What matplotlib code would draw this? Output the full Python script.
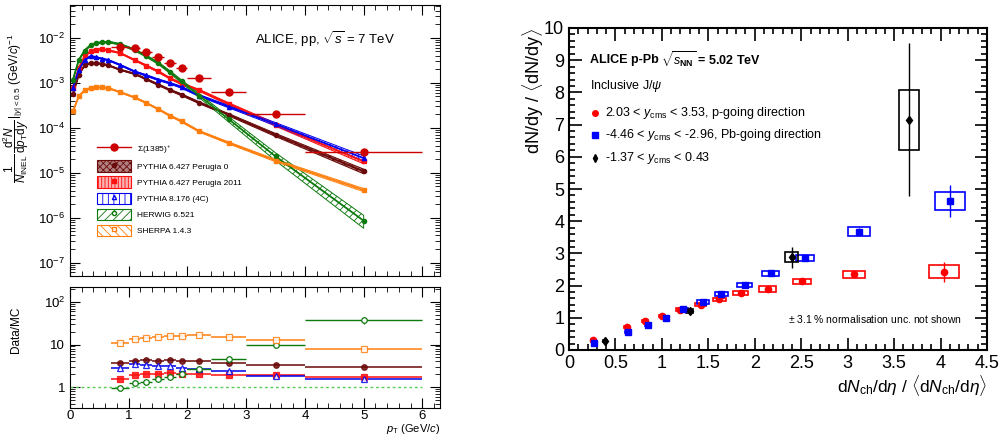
import numpy as np
import matplotlib.pyplot as plt
from matplotlib.patches import Patch, Rectangle
from matplotlib.lines import Line2D
from matplotlib.ticker import MultipleLocator, FixedLocator, FixedFormatter, NullFormatter, LogLocator

plt.rcParams['font.family'] = ['Liberation Sans', 'DejaVu Sans']
plt.rcParams['mathtext.fontset'] = 'custom'
plt.rcParams['mathtext.rm'] = 'Liberation Sans'
plt.rcParams['mathtext.it'] = 'Liberation Sans:italic'
plt.rcParams['mathtext.bf'] = 'Liberation Sans:bold'
plt.rcParams['hatch.linewidth'] = 0.6

# ---- left: Sigma(1385)+ spectrum vs MC
pt_data = [0.85, 1.1, 1.3, 1.5, 1.7, 1.9, 2.2, 2.7, 3.5, 5.0]
pt_hw = [0.15, 0.1, 0.1, 0.1, 0.1, 0.1, 0.2, 0.3, 0.5, 1.0]
sigma_data = [6.3e-3, 6.0e-3, 4.8e-3, 3.7e-3, 2.8e-3, 2.1e-3, 1.3e-3, 6.2e-4, 2.0e-4, 2.9e-5]

pt_mc = [0.05, 0.15, 0.25, 0.35, 0.45, 0.55, 0.65, 0.85, 1.1, 1.3, 1.5, 1.7, 1.9, 2.2, 2.7, 3.5, 5.0]
perugia0 = [5.6e-4, 1.5e-3, 2.45e-3, 2.75e-3, 2.75e-3, 2.6e-3, 2.45e-3, 1.95e-3, 1.58e-3, 1.2e-3,
            9.1e-4, 6.9e-4, 5.4e-4, 3.6e-4, 1.95e-4, 6.9e-5, 1.07e-5]
perugia2011 = [7.8e-4, 2.14e-3, 3.9e-3, 5.0e-3, 5.4e-3, 5.6e-3, 5.25e-3, 4.6e-3, 3.2e-3, 2.4e-3,
               1.78e-3, 1.26e-3, 9.5e-4, 6.8e-4, 3.4e-4, 1.17e-4, 1.78e-5]
pythia8 = [7.8e-4, 1.95e-3, 3.2e-3, 3.9e-3, 3.7e-3, 3.4e-3, 3.2e-3, 2.5e-3, 1.78e-3, 1.45e-3,
           1.17e-3, 9.8e-4, 7.9e-4, 5.2e-4, 2.95e-4, 1.2e-4, 2.1e-5]
herwig = [1.17e-3, 3.2e-3, 5.2e-3, 6.8e-3, 7.6e-3, 7.9e-3, 8.1e-3, 7.2e-3, 5.4e-3, 3.9e-3,
          2.75e-3, 1.74e-3, 1.07e-3, 5.2e-4, 1.55e-4, 2.3e-5, 8.5e-7]
sherpa = [2.3e-4, 5.0e-4, 6.8e-4, 7.6e-4, 7.9e-4, 7.9e-4, 7.6e-4, 6.2e-4, 4.7e-4, 3.55e-4,
          2.6e-4, 1.86e-4, 1.38e-4, 8.3e-5, 4.6e-5, 1.86e-5, 4.1e-6]
rel_err_pythia = [0.03, 0.03, 0.03, 0.03, 0.03, 0.03, 0.03, 0.03, 0.03, 0.04,
                  0.04, 0.04, 0.05, 0.05, 0.06, 0.08, 0.12]
rel_err_herwig = [0.04, 0.04, 0.04, 0.04, 0.04, 0.04, 0.04, 0.04, 0.05, 0.05,
                  0.06, 0.07, 0.08, 0.1, 0.13, 0.2, 0.32]
rel_err_sherpa = [0.03, 0.03, 0.03, 0.03, 0.03, 0.03, 0.03, 0.03, 0.03, 0.03,
                  0.03, 0.04, 0.04, 0.04, 0.05, 0.06, 0.08]

ratio_p0 = [3.6, 4.2, 4.4, 4.2, 4.4, 4.1, 4.0, 3.6, 3.3, 2.9]
ratio_p11 = [1.57, 1.9, 2.05, 2.05, 2.2, 2.0, 2.0, 1.95, 1.9, 1.7]
ratio_py8 = [2.75, 3.4, 3.3, 3.2, 3.05, 2.8, 2.6, 2.34, 1.8, 1.54]
ratio_hw = [0.96, 1.22, 1.33, 1.54, 1.75, 2.0, 2.6, 4.5, 9.7, 37.0]
ratio_hw_err = [0.03, 0.04, 0.05, 0.06, 0.07, 0.08, 0.1, 0.2, 0.6, 6.0]
ratio_sh = [10.9, 13.7, 14.4, 14.7, 15.8, 15.6, 16.7, 15.0, 12.6, 7.8]

c_brown = '#6b0a0a'
c_red = '#ff1010'
c_blue = '#0000ee'
c_green = '#0d7a0d'
c_orange = '#ff7f0e'
c_data = '#cc0000'

mc_list = [
    ('PYTHIA 6.427 Perugia 0', perugia0, rel_err_pythia, c_brown, '#b08080', 'xxxxx', 'o', ratio_p0, c_brown),
    ('PYTHIA 6.427 Perugia 2011', perugia2011, rel_err_pythia, c_red, '#ffb0b0', '|||||', 's', ratio_p11, c_red),
    ('PYTHIA 8.176 (4C)', pythia8, rel_err_pythia, c_blue, 'white', '|||', '^', ratio_py8, 'white'),
    ('HERWIG 6.521', herwig, rel_err_herwig, c_green, 'white', '////', 'o', ratio_hw, 'white'),
    ('SHERPA 1.4.3', sherpa, rel_err_sherpa, c_orange, 'white', '\\\\\\\\', 's', ratio_sh, 'white'),
]

fig = plt.figure(figsize=(9.99, 4.38), dpi=100)
ax1 = fig.add_axes([70/999, 1-276/438, 370/999, 271/438])
ax2 = fig.add_axes([70/999, 1-408/438, 370/999, 121/438])
ax3 = fig.add_axes([569/999, 1-350/438, 418/999, 322/438])

pt_mc_a = np.array(pt_mc)
handles = [Line2D([], [], color=c_data, marker='o', ms=5, lw=1)]
labels = [r'$\Sigma$(1385)$^{+}$']
for name, vals, rel, col, fc, hatch, mk, rat, mfc in mc_list:
    v = np.array(vals)
    e = np.array(rel)
    ax1.fill_between(pt_mc_a, v*(1-e), v*(1+e), facecolor=fc, edgecolor=col, hatch=hatch, lw=0.7)
    ax1.plot(pt_mc_a, v, color=col, lw=1.3, marker=mk, ms=3)
    handles.append((Patch(facecolor=fc, edgecolor=col, hatch=hatch, lw=0.8),
                    Line2D([], [], color=col, marker=mk, ms=3, mfc=mfc, ls='none')))
    labels.append(name)
    # ratio panel
    if name == 'HERWIG 6.521':
        ax2.errorbar(pt_data, rat, xerr=pt_hw, yerr=ratio_hw_err, fmt=mk, color=col, mfc='white',
                     ms=4, lw=1.0, capsize=0, mew=0.9)
    else:
        ax2.errorbar(pt_data, rat, xerr=pt_hw, fmt=mk, color=col, mfc=mfc,
                     ms=4, lw=1.3, capsize=0, mew=0.9, alpha=0.85)

ax1.errorbar(pt_data, sigma_data, xerr=pt_hw, fmt='o', color=c_data, ms=5, lw=1, capsize=0)

ax1.set_yscale('log')
ax1.set_xlim(0, 6.3)
ax1.set_ylim(10**-7.3, 10**-1.27)
ax1.xaxis.set_major_locator(MultipleLocator(1))
ax1.xaxis.set_minor_locator(MultipleLocator(0.2))
ax1.xaxis.set_major_formatter(NullFormatter())
ax1.yaxis.set_major_locator(LogLocator(base=10, numticks=20))
ax1.yaxis.set_minor_locator(LogLocator(base=10, subs=np.arange(2, 10), numticks=20))
ax1.yaxis.set_minor_formatter(NullFormatter())
ax1.tick_params(which='both', direction='in', top=True, right=True, labelsize=9.5)
ax1.tick_params(which='major', length=7)
ax1.tick_params(which='minor', length=3.5)
ax1.set_ylabel(r'$\dfrac{1}{N_{\rm INEL}}\,\dfrac{{\rm d}^2N}{{\rm d}p_{\rm T}{\rm d}y}\,|_{|y|<0.5}$ (GeV/$c$)$^{-1}$',
               fontsize=8.5)
ax1.yaxis.set_label_coords(-0.105, 0.62)
ax1.text(0.5, 0.855, r'ALICE, pp, $\sqrt{s}$ = 7 TeV', transform=ax1.transAxes, fontsize=9.5)
ax1.legend(handles, labels, loc='upper left', bbox_to_anchor=(0.073, 0.49), frameon=False, fontsize=6,
           handlelength=4.1, handleheight=1.7, labelspacing=0.58, handletextpad=0.7,
           borderaxespad=0, borderpad=0)

ax2.plot([0, 6], [1, 1], color='#55cc55', ls=(0, (2, 2)), lw=1)
ax2.set_yscale('log')
ax2.set_xlim(0, 6.3)
ax2.set_ylim(10**-0.49, 10**2.35)
ax2.xaxis.set_major_locator(MultipleLocator(1))
ax2.xaxis.set_minor_locator(MultipleLocator(0.2))
ax2.yaxis.set_major_locator(FixedLocator([1, 10, 100]))
ax2.yaxis.set_major_formatter(FixedFormatter(['1', '10', r'$10^{2}$']))
ax2.yaxis.set_minor_locator(LogLocator(base=10, subs=np.arange(2, 10), numticks=20))
ax2.yaxis.set_minor_formatter(NullFormatter())
ax2.tick_params(which='both', direction='in', top=True, right=True, labelsize=9.5)
ax2.tick_params(axis='x', which='major', pad=1.5)
ax2.tick_params(which='major', length=7)
ax2.tick_params(which='minor', length=3.5)
ax2.set_ylabel('Data/MC', fontsize=8.5)
ax2.yaxis.set_label_coords(-0.13, 0.65)
fig.text(440/999, 1-429.5/438, r'$p_{\rm T}$ (GeV/$c$)', fontsize=8, ha='right', va='center')

# ---- right: J/psi vs multiplicity in p-Pb
x_fwd = [0.26, 0.62, 0.82, 1.00, 1.20, 1.42, 1.62, 1.85, 2.14, 2.51, 3.07, 4.04]
y_fwd = [0.31, 0.70, 0.90, 1.07, 1.25, 1.41, 1.57, 1.77, 1.90, 2.14, 2.35, 2.43]
ystat_fwd = [0.03, 0.03, 0.03, 0.03, 0.03, 0.04, 0.04, 0.04, 0.05, 0.05, 0.08, 0.31]
xsys_fwd = [0.02, 0.03, 0.03, 0.035, 0.045, 0.06, 0.07, 0.08, 0.09, 0.10, 0.12, 0.16]
ysys_fwd = [0.02, 0.03, 0.03, 0.03, 0.05, 0.05, 0.06, 0.07, 0.09, 0.08, 0.11, 0.2]

x_bwd = [0.27, 0.63, 0.85, 1.04, 1.23, 1.44, 1.64, 1.89, 2.17, 2.54, 3.12, 4.10]
y_bwd = [0.22, 0.56, 0.78, 0.99, 1.26, 1.49, 1.74, 2.02, 2.38, 2.85, 3.68, 4.63]
ystat_bwd = [0.03, 0.03, 0.03, 0.03, 0.04, 0.04, 0.04, 0.05, 0.06, 0.07, 0.12, 0.5]
xsys_bwd = [0.02, 0.03, 0.03, 0.035, 0.05, 0.065, 0.07, 0.08, 0.09, 0.10, 0.12, 0.16]
ysys_bwd = [0.02, 0.03, 0.03, 0.03, 0.05, 0.05, 0.065, 0.07, 0.08, 0.09, 0.14, 0.28]

x_mid = [0.39, 1.30, 2.40, 3.66]
y_mid = [0.28, 1.21, 2.88, 7.15]
ystat_mid = [0.1, 0.1, 0.33, 2.37]
xsys_mid = [0.02, 0.04, 0.07, 0.11]
ysys_mid = [0.03, 0.05, 0.15, 0.93]

series = [
    (x_fwd, y_fwd, ystat_fwd, xsys_fwd, ysys_fwd, '#ff0000', 'o', 4.5),
    (x_bwd, y_bwd, ystat_bwd, xsys_bwd, ysys_bwd, '#0000ff', 's', 4.5),
    (x_mid, y_mid, ystat_mid, xsys_mid, ysys_mid, 'black', 'd', 4.5),
]
for xs, ys, es, bx, by, col, mk, ms in series:
    for xi, yi, wx, wy in zip(xs, ys, bx, by):
        ax3.add_patch(Rectangle((xi-wx, yi-wy), 2*wx, 2*wy, facecolor='none', edgecolor=col, lw=1.2))
    ax3.errorbar(xs, ys, yerr=es, fmt=mk, color=col, ms=ms, lw=1, capsize=0)

ax3.set_xlim(0, 4.5)
ax3.set_ylim(0, 10)
ax3.xaxis.set_major_locator(FixedLocator(np.arange(0, 4.51, 0.5)))
ax3.xaxis.set_major_formatter(FixedFormatter(['0', '0.5', '1', '1.5', '2', '2.5', '3', '3.5', '4', '4.5']))
ax3.xaxis.set_minor_locator(MultipleLocator(0.1))
ax3.yaxis.set_major_locator(MultipleLocator(1))
ax3.yaxis.set_minor_locator(MultipleLocator(0.2))
ax3.tick_params(which='both', direction='in', top=True, right=True, labelsize=13, width=1.2)
ax3.tick_params(which='major', length=9)
ax3.tick_params(which='minor', length=4.5)
for sp in ax3.spines.values():
    sp.set_linewidth(1.5)
ax3.set_ylabel(r'dN/dy / $\langle$dN/dy$\rangle$', fontsize=13, loc='top')
ax3.yaxis.set_label_coords(-0.055, 1.0)
ax3.set_xlabel(r'd$N_{\rm ch}$/d$\eta$ / $\langle$d$N_{\rm ch}$/d$\eta\rangle$', fontsize=12.5, loc='right',
               labelpad=1)

ax3.text(0.05, 0.9, 'ALICE p-Pb', transform=ax3.transAxes, fontsize=9, fontweight='bold', va='center')
ax3.text(0.22, 0.9, r'$\sqrt{s_{\mathbf{NN}}}$ = 5.02 TeV', transform=ax3.transAxes, fontsize=9,
         fontweight='bold', va='center')
ax3.text(0.05, 0.82, r'Inclusive J/$\psi$', transform=ax3.transAxes, fontsize=9, va='center')
leg_rows = [
    (0.735, 'o', '#ff0000', r'2.03 < $y_{\rm cms}$ < 3.53, p-going direction'),
    (0.667, 's', '#0000ff', r'-4.46 < $y_{\rm cms}$ < -2.96, Pb-going direction'),
    (0.596, 'd', 'black', r'-1.37 < $y_{\rm cms}$ < 0.43'),
]
for yy, mk, col, lab in leg_rows:
    ax3.plot([0.063], [yy], marker=mk, color=col, ms=4, transform=ax3.transAxes, clip_on=False)
    ax3.text(0.085, yy, lab, transform=ax3.transAxes, fontsize=9, va='center')
ax3.text(0.94, 0.095, r'$\pm$ 3.1 % normalisation unc. not shown', transform=ax3.transAxes,
         fontsize=7.5, ha='right', va='center')

plt.savefig('out.png', dpi=100)
